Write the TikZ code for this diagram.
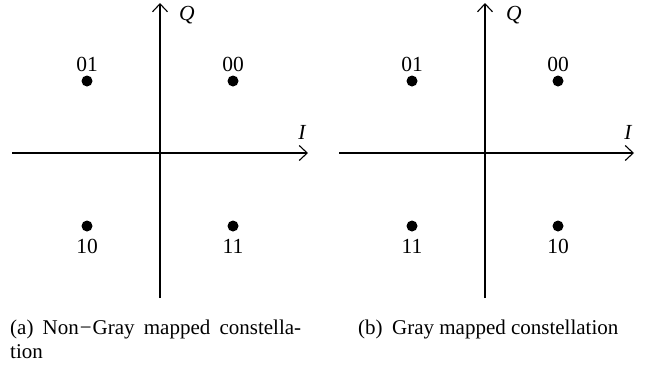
\documentclass[tikz,border=0pt]{standalone}
\usepackage{fontspec}
\setmainfont{Liberation Serif}
\usetikzlibrary{arrows.meta}
\begin{document}
\begin{tikzpicture}[x=1pt,y=-1pt,
  axis/.style={line width=1.1pt,-{Straight Barb[length=8pt,width=15pt,line width=1.1pt]}},
  dot/.style={circle,fill=black,inner sep=0pt,minimum size=11pt},
  lbl/.style={font=\fontsize{21.5}{24}\selectfont,inner sep=0pt},
  captxt/.style={font=\fontsize{21}{26}\selectfont,inner sep=0pt,anchor=base west}]
\useasboundingbox (0,0) rectangle (653,365);
% ---- left diagram ----
\coordinate (aL) at (12,153);
\coordinate (aR) at (308,153);
\coordinate (aB) at (160,298);
\coordinate (aT) at (160,3);
\draw[axis] (aL) -- (aR);
\draw[axis] (aB) -- (aT);
\node[lbl] (aQ) at (187,15) {\itshape Q};
\node[lbl] (aI) at (302,132) {\itshape I};
\node[dot] (a01) at (87,81) {};
\node[dot] (a00) at (233,81) {};
\node[dot] (a10) at (87,226) {};
\node[dot] (a11) at (233,226) {};
\node[lbl] (a01t) at (87,64) {01};
\node[lbl] (a00t) at (233,64) {00};
\node[lbl] (a10t) at (87,246) {10};
\node[lbl] (a11t) at (233,246) {11};
% ---- right diagram ----
\coordinate (bL) at (339,153);
\coordinate (bR) at (634,153);
\coordinate (bB) at (485,298);
\coordinate (bT) at (485,3);
\draw[axis] (bL) -- (bR);
\draw[axis] (bB) -- (bT);
\node[lbl] (bQ) at (514,15) {\itshape Q};
\node[lbl] (bI) at (628,132) {\itshape I};
\node[dot] (b01) at (412,81) {};
\node[dot] (b00) at (558,81) {};
\node[dot] (b11) at (412,226) {};
\node[dot] (b10) at (558,226) {};
\node[lbl] (b01t) at (412,64) {01};
\node[lbl] (b00t) at (558,64) {00};
\node[lbl] (b11t) at (412,246) {11};
\node[lbl] (b10t) at (558,246) {10};
% ---- captions ----
\node[captxt] (capa1) at (10,334) {\hbox to 291pt{(a)\hfil Non\kern1pt−\kern1ptGray\hfil mapped\hfil constella-}};
\node[captxt] (capa2) at (10,358) {tion};
\node[captxt] (capb) at (358,334) {(b)\hspace{0.45em}Gray mapped constellation};
\end{tikzpicture}
\end{document}
